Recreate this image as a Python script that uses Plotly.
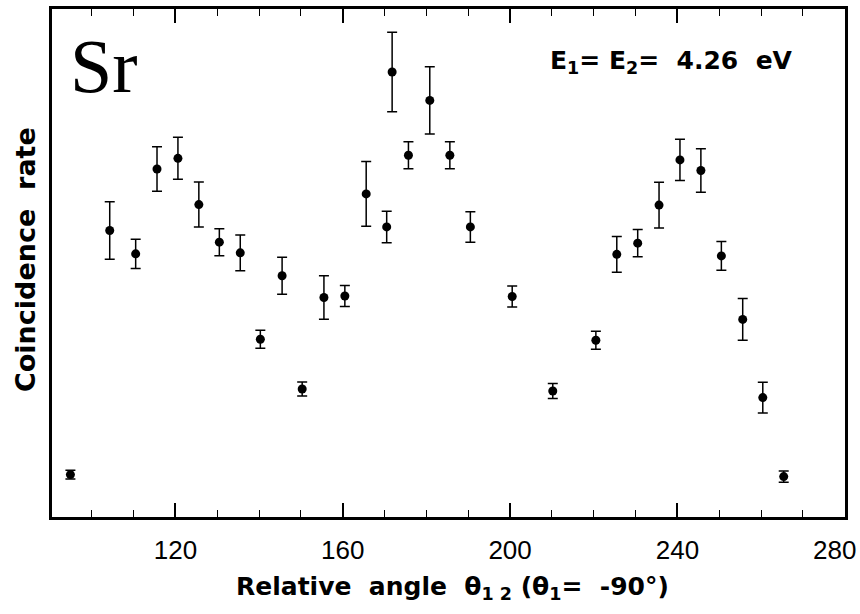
import plotly.graph_objects as go

# Relative angle theta_12 (deg)
angles = [94.9, 104.3, 110.5, 115.6, 120.6, 125.6, 130.5, 135.5, 140.3, 145.5,
          150.3, 155.5, 160.5, 165.6, 170.5, 171.8, 175.7, 180.8, 185.6, 190.5,
          200.5, 210.2, 220.5, 225.5, 230.5, 235.6, 240.6, 245.6, 250.5, 255.6,
          260.4, 265.4]
# Coincidence rate (arbitrary units)
rates = [8.35, 56.4, 51.8, 68.5, 70.6, 61.5, 54.1, 52.0, 35.0, 47.5,
         25.2, 43.2, 43.5, 63.6, 57.1, 87.6, 71.2, 82.0, 71.2, 57.1,
         43.4, 24.8, 34.8, 51.7, 53.9, 61.4, 70.3, 68.2, 51.4, 38.9,
         23.5, 7.95]
errors = [0.85, 5.65, 2.89, 4.37, 4.13, 4.43, 2.66, 3.52, 1.77, 3.64,
          1.36, 4.29, 2.07, 6.36, 3.09, 7.81, 2.66, 6.63, 2.66, 3.01,
          2.07, 1.48, 1.77, 3.54, 2.69, 4.49, 4.07, 4.27, 2.85, 4.13,
          3.05, 1.10]
x_ticks = [120, 160, 200, 240, 280]
x_tick_labels = ["120", "160", "200", "240", "280"]

fig = go.Figure()
fig.add_trace(go.Scatter(
    x=angles, y=rates, mode="markers",
    marker=dict(color="black", size=9),
    error_y=dict(type="data", array=errors, visible=True,
                 color="black", thickness=1.5, width=5),
    showlegend=False,
))

fig.update_layout(
    width=860, height=614,
    margin=dict(l=52, r=15, t=9, b=97, autoexpand=False),
    paper_bgcolor="white", plot_bgcolor="white",
    font=dict(family="Liberation Sans, Arial, sans-serif", color="black"),
    xaxis=dict(
        range=[90.5, 280.05], tickvals=x_ticks,
        # the last label sits at the frame edge; it is drawn as an annotation below
        ticktext=x_tick_labels[:-1] + [""],
        ticks="inside", ticklen=14, automargin=False,
        tickwidth=1.5, tickcolor="black", mirror="ticks",
        showline=True, linecolor="black", linewidth=3, showgrid=False,
        zeroline=False, tickfont=dict(size=26, family="Liberation Sans, Arial"),
        ticklabelstandoff=8,
        minor=dict(dtick=10, tick0=0, ticks="inside", ticklen=7,
                   tickwidth=1.2, tickcolor="black", showgrid=False),
    ),
    yaxis=dict(
        range=[0, 100], showticklabels=False, ticks="", automargin=False,
        showline=True, linecolor="black", linewidth=3, mirror=True,
        showgrid=False, zeroline=False,
    ),
)

fig.add_annotation(
    text=x_tick_labels[-1], x=x_ticks[-1], xref="x",
    yref="paper", y=-(550 - 517) / 508, xshift=-10,
    xanchor="center", yanchor="middle", showarrow=False,
    font=dict(size=26, family="Liberation Sans, Arial"),
)
fig.add_annotation(
    text="<b>Relative  angle  θ<sub>1 2</sub> (θ<sub>1</sub>=  -90°)</b>",
    xref="paper", yref="paper", x=(452 - 52) / 793, y=-(588 - 517) / 508,
    xanchor="center", yanchor="middle", showarrow=False,
    font=dict(size=25, family="DejaVu Sans"),
)
fig.add_annotation(
    text="<b>Coincidence  rate</b>",
    xref="paper", yref="paper", x=(25 - 52) / 793, y=(517 - 260) / 508,
    xanchor="center", yanchor="middle", showarrow=False, textangle=-90,
    font=dict(size=27, family="DejaVu Sans"),
)
fig.add_annotation(
    text="Sr",
    xref="paper", yref="paper", x=(68 - 52) / 793, y=(517 - 66) / 508,
    xanchor="left", yanchor="middle", showarrow=False,
    font=dict(size=76, family="Liberation Serif, Times New Roman, serif"),
)
fig.add_annotation(
    text="<b>E<sub>1</sub>= E<sub>2</sub>=  4.26  eV</b>",
    xref="paper", yref="paper", x=(671 - 52) / 793, y=(517 - 62) / 508,
    xanchor="center", yanchor="middle", showarrow=False,
    font=dict(size=25, family="DejaVu Sans"),
)

fig.write_html("out.html")
